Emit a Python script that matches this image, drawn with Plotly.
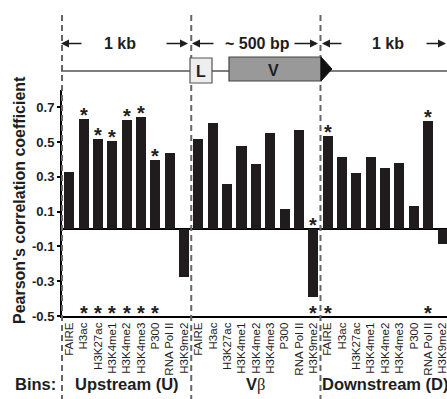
import plotly.graph_objects as go

# ---------------- data ----------------
marks = ["FAIRE", "H3ac", "H3K27ac", "H3K4me1", "H3K4me2", "H3K4me3",
         "P300", "RNA Pol II", "H3K9me2"]
groups = ["Upstream (U)", "Vβ", "Downstream (D)"]
upstream = [0.33, 0.634, 0.517, 0.507, 0.63, 0.645, 0.40, 0.44, -0.274]
vbeta = [0.517, 0.613, 0.26, 0.479, 0.374, 0.55, 0.115, 0.569, -0.39]
downstream = [0.538, 0.416, 0.32, 0.412, 0.35, 0.379, 0.13, 0.619, -0.085]
# significance markers (1 = asterisk)
sig_upstream = [0, 1, 1, 1, 1, 1, 1, 0, 0]
sig_vbeta = [0, 0, 0, 0, 0, 0, 0, 0, 1]
sig_downstream = [1, 0, 0, 0, 0, 0, 0, 1, 0]
y_ticks = [-0.5, -0.3, -0.1, 0.1, 0.3, 0.5, 0.7]
y_ticktext = ["-0.5", "-0.3", "-0.1", "0.1", "0.3", "0.5", "0.7"]

values = upstream + vbeta + downstream
sigs = sig_upstream + sig_vbeta + sig_downstream
labels = marks * 3
xs = list(range(len(values)))

# ---------------- geometry ----------------
W, H = 447, 399
ML, MR, MT, MB = 62, 0, 90, 83
PW, PH = W - ML - MR, H - MT - MB
XMIN, XMAX = -0.5, 26.31
YMIN, YMAX = -0.5, 0.8
FONT = "Arial, Liberation Sans, sans-serif"
INK = "#1e1e1e"


def px_x(px):
    return (px - ML) / PW


def px_y(py):
    return (H - MB - py) / PH


def idx_to_paper(i):
    return (i - XMIN) / (XMAX - XMIN)


def text_ann(x, y, text, size=16, bold=True, xref="paper", yref="paper", **kw):
    f = dict(family=FONT, size=size, color=INK)
    if bold:
        f["weight"] = "bold"
    d = dict(xref=xref, yref=yref, x=x, y=y, text=text, showarrow=False,
             xanchor="center", yanchor="middle", font=f)
    d.update(kw)
    return d


fig = go.Figure()
fig.add_trace(go.Bar(x=xs, y=values, width=0.7,
                     marker=dict(color="#201c1d", line=dict(width=0)),
                     hoverinfo="skip"))

shapes = []
annotations = []

# dashed group boundaries
n = len(marks)
for g in range(len(groups)):
    xb = idx_to_paper(g * n - 0.5)
    shapes.append(dict(type="line", xref="paper", yref="paper",
                       x0=xb, x1=xb, y0=px_y(15), y1=px_y(399),
                       line=dict(color="#666666", width=2, dash="6px,4px")))

# gene diagram
shapes.append(dict(type="line", xref="paper", yref="paper",
                   x0=px_x(61), x1=px_x(447), y0=px_y(71), y1=px_y(71),
                   line=dict(color="#555555", width=1.3)))
shapes.append(dict(type="rect", xref="paper", yref="paper",
                   x0=px_x(190), x1=px_x(212), y0=px_y(83), y1=px_y(58),
                   fillcolor="#eeeeee", line=dict(color="#555555", width=1.2)))
shapes.append(dict(type="rect", xref="paper", yref="paper",
                   x0=px_x(229), x1=px_x(321), y0=px_y(81), y1=px_y(57),
                   fillcolor="#999999", line=dict(color="#444444", width=1.2)))
shapes.append(dict(type="path", xref="paper", yref="paper",
                   path=f"M {px_x(321)},{px_y(57)} L {px_x(332)},{px_y(69)} L {px_x(321)},{px_y(81)} Z",
                   fillcolor="#111111", line=dict(color="#111111", width=1)))
annotations.append(text_ann(px_x(201), px_y(71), "L"))
annotations.append(text_ann(px_x(273), px_y(70), "V"))

# span arrows and texts
arrows = [(61, 83), (188, 165), (192, 215), (318, 293), (322, 343), (447, 425)]
for head, tail in arrows:
    annotations.append(dict(xref="paper", yref="paper", x=px_x(head), y=px_y(43.5),
                            ax=tail - head, ay=0, text="", showarrow=True,
                            arrowhead=2, arrowsize=1, arrowwidth=1.6,
                            arrowcolor=INK, standoff=0, startstandoff=0))
for cx, txt in [(120, "1 kb"), (257, "~ 500 bp"), (388, "1 kb")]:
    annotations.append(text_ann(px_x(cx), px_y(44), txt))

# asterisks
for x, v, s in zip(xs, values, sigs):
    if s:
        annotations.append(text_ann(x, max(v, 0), "*", size=20, xref="x", yref="y", yshift=4))
        annotations.append(text_ann(x, YMIN, "*", size=20, xref="x", yref="y", yshift=3))

# bins row
annotations.append(text_ann(px_x(35), px_y(384), "Bins:", size=16.5))
for g, name in enumerate(groups):
    cx = g * n + (n - 1) / 2
    if name == "Vβ":
        txt = "<b>V</b><span style='font-family:Liberation Serif'>β</span>"
        annotations.append(text_ann(cx, px_y(384), txt, size=16.5, bold=False, xref="x"))
    else:
        annotations.append(text_ann(cx, px_y(384), name, size=16.5, xref="x"))

# y-axis title
annotations.append(text_ann(px_x(19), px_y(200), "Pearson's correlation coefficient",
                            textangle=-90))

fig.update_layout(
    width=W, height=H,
    margin=dict(l=ML, r=MR, t=MT, b=MB, pad=0),
    paper_bgcolor="white", plot_bgcolor="white",
    showlegend=False, bargap=0,
    shapes=shapes, annotations=annotations,
    xaxis=dict(range=[XMIN, XMAX], tickmode="array", tickvals=xs, ticktext=labels,
               tickangle=-90, tickfont=dict(family=FONT, size=11.5, color=INK),
               ticklabeloverflow="allow",
               showline=True, linecolor="black", linewidth=2, ticks="",
               showgrid=False, zeroline=False, fixedrange=True),
    yaxis=dict(range=[YMIN, YMAX], tickmode="array", tickvals=y_ticks,
               ticktext=y_ticktext, ticks="outside", ticklen=3, tickwidth=1.5,
               tickcolor="black",
               tickfont=dict(family=FONT, size=13, color=INK, weight="bold"),
               showline=True, linecolor="black", linewidth=2,
               showgrid=False, zeroline=True, zerolinecolor="black",
               zerolinewidth=1.5, fixedrange=True),
)

fig.write_html("out.html", config={"displayModeBar": False},
               post_script="document.body.style.margin='0';document.body.style.overflow='hidden';")
